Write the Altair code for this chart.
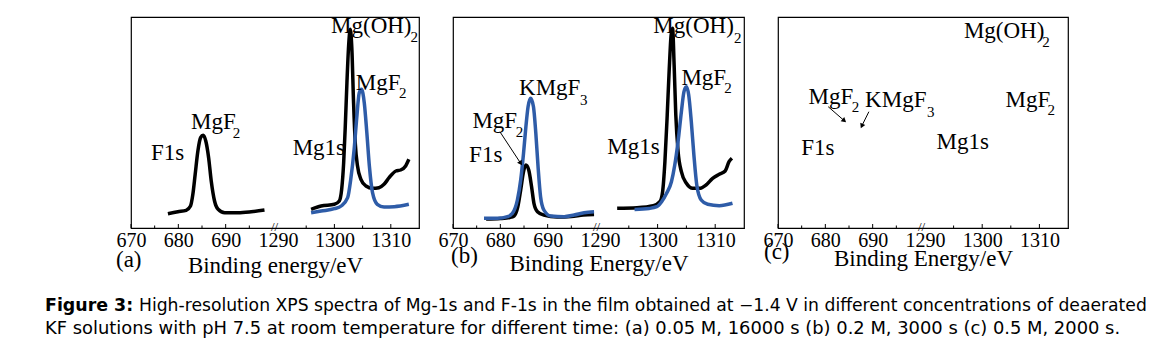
import altair as alt
import pandas as pd

SERIF = "Liberation Serif"
SANS = "DejaVu Sans"
BLACK = "#000000"
BLUE = "#2e5ca8"

# ---------------- data ----------------
# Panel (a): 0.05 M, 16000 s
a_f1s_E = [677.8, 679.9, 681.65, 682.57, 683.07, 683.56, 684.13, 684.7, 685.25, 685.8,
           686.4, 686.95, 687.65, 688.4, 689.8, 692.6, 695.4, 698.2]
a_f1s_I = [14.3, 16.3, 17.7, 22, 33.7, 53.7, 77, 90.3, 92.7, 87,
           70.3, 47, 27, 18.7, 15.3, 15.3, 16.3, 18]
a_mgk_E = [1295.87, 1297.64, 1300.0, 1300.87, 1301.29, 1301.64, 1301.93, 1302.22, 1302.52,
           1302.81, 1303.1, 1303.4, 1303.7, 1304.1, 1304.7, 1305.6, 1306.76, 1307.9, 1308.8,
           1309.7, 1310.9, 1311.75, 1312.63, 1313.2]
a_mgk_I = [18.7, 22, 23.7, 27, 38.7, 65, 102, 145, 182,
           198.7, 178.7, 125, 85, 62, 48.7, 42, 39.7, 40.3, 43.7,
           50.3, 57, 58, 62, 68.7]
a_mgb_E = [1295.87, 1297.64, 1300.0, 1301.2, 1302.35, 1302.9, 1303.5, 1303.99, 1304.4,
           1304.8, 1305.3, 1305.75, 1306.2, 1306.76, 1307.6, 1308.8, 1310.6, 1313.2]
a_mgb_I = [15.3, 17, 19.3, 22, 30.3, 48.7, 78.7, 112, 135,
           138.7, 125, 95.3, 62, 35.3, 23.7, 21, 21.3, 23.7]

# Panel (b): 0.2 M, 3000 s
b_f1sk_E = [677.0, 680.0, 682.0, 682.9, 683.7, 684.3, 684.9, 685.4, 686.0, 686.6,
            687.1, 687.85, 689.2, 692.0, 695.0, 697.5, 699.8]
b_f1sk_I = [9.0, 9.5, 10.5, 12, 21.3, 38, 56.3, 63, 58, 41.3,
            24.7, 16.3, 13, 11, 11.5, 13, 13.5]
b_f1sb_E = [676.55, 679.4, 681.5, 682.56, 683.6, 684.3, 684.9, 685.4, 685.86, 686.4,
            687.0, 687.5, 687.97, 688.5, 689.2, 690.65, 693.5, 695.6, 697.7, 699.8]
b_f1sb_I = [9.7, 9.7, 11.3, 14.7, 28, 48, 74.7, 101.3, 121.3, 129.7,
            121.3, 94.7, 61.3, 31.3, 18, 12, 11.3, 13, 15.3, 16.3]
b_mgk_E = [1292.98, 1296.4, 1299.26, 1300.4, 1300.87, 1301.27, 1301.67, 1302.0, 1302.35,
           1302.6, 1302.87, 1303.16, 1303.56, 1304.13, 1305.0, 1306.1, 1307.27, 1308.4,
           1309.55, 1310.7, 1311.73, 1312.4, 1312.9]
b_mgk_I = [19.7, 20.3, 22.3, 26.3, 36.3, 66.3, 113, 156.3, 193,
           199.7, 163, 113, 76.3, 56.3, 44.7, 39.7, 39.7, 43,
           49.7, 53.7, 57, 66.3, 69.7]
b_mgb_E = [1296.0, 1298.5, 1299.85, 1300.7, 1301.56, 1302.4, 1302.98, 1303.55, 1304.13,
           1304.58, 1305.0, 1305.4, 1305.85, 1306.3, 1306.8, 1307.57, 1308.7, 1310.7, 1313.0]
b_mgb_I = [18.5, 19.5, 21.3, 26.3, 34.7, 46.3, 63, 86.3, 116.3,
           136.3, 141.3, 133, 106.3, 73, 43, 28, 23.7, 22.3, 24.7]

# annotation labels: (text, energy, intensity, font size)
a_labels = [("Mg(OH)", 1299.4, 195.3, 23), ("2", 1313.5, 186, 15),
            ("MgF", 1303.8, 137.7, 23), ("2", 1311.45, 130.3, 15),
            ("MgF", 682.7, 98.7, 23), ("2", 691.5, 90.3, 15),
            ("F1s", 674.2, 67.7, 23), ("Mg1s", 1292.6, 73, 23)]
b_labels = [("KMgF", 683.95, 133, 23), ("3", 696.85, 123, 15),
            ("MgF", 674.1, 99.7, 23), ("2", 683.26, 91.3, 15),
            ("F1s", 673.4, 66.3, 23),
            ("Mg(OH)", 1299.26, 194.7, 23), ("2", 1313.28, 184.7, 15),
            ("MgF", 1304.13, 143, 23), ("2", 1311.56, 134.7, 15),
            ("Mg1s", 1291.27, 74, 23)]
c_labels = [("Mg(OH)", 1296.8, 189.7, 23), ("2", 1310.5, 181.3, 15),
            ("MgF", 1304.09, 120.7, 23), ("2", 1311.4, 113, 15),
            ("MgF", 676.46, 124, 23), ("2", 685.6, 116.3, 15),
            ("KMgF", 688.4, 120.7, 23), ("3", 1290.35, 111.3, 15),
            ("F1s", 674.9, 73, 23), ("Mg1s", 1292.0, 78.7, 23)]
# arrows: (E start, I start, E end, I end, head angle)
b_arrows = [(679.9, 96.3, 684.3, 64.7, 147)]
c_arrows = [(680.6, 121.3, 684.0, 107.3, 131), (689.2, 116.3, 687.7, 102.0, 205)]

major_ticks = [670, 680, 690, 1300, 1310]
minor_ticks = [675, 685, 695, 1295, 1305]
tick_labels = [670, 680, 690, 1290, 1300, 1310]

caption_bold = "Figure 3:"
caption_1 = ("High-resolution XPS spectra of Mg-1s and F-1s in the film obtained at \u22121.4 V "
             "in different concentrations of deaerated")
caption_2 = ("KF solutions with pH 7.5 at room temperature for different time: (a) 0.05 M, "
             "16000 s (b) 0.2 M, 3000 s (c) 0.5 M, 2000 s.")

H = 211
YMAX = 211


def panel(W, curves, labels, arrows, tag, tag_x, tag_y, title, title_y, extra=()):
    xs = alt.Scale(domain=[670, 700, 1290, 1315], range=[0, 142, 147, W], nice=False, zero=False)
    ys = alt.Scale(domain=[0, YMAX], nice=False, zero=False)
    axis = alt.Axis(values=tick_labels, format="d", title=title, ticks=False, grid=False,
                    labelFont=SERIF, labelFontSize=20, labelColor=BLACK, labelPadding=2,
                    labelFlush=False, labelOverlap=False,
                    domainColor=BLACK, domainWidth=1.2,
                    titleFont=SERIF, titleFontSize=23, titleFontWeight="normal",
                    titleColor=BLACK, titleY=title_y, titleBaseline="alphabetic")
    layers = []
    for vals, ln in ((major_ticks, 4), (minor_ticks, 2.5)):
        tdf = pd.DataFrame({"E": vals})
        layers.append(alt.Chart(tdf).mark_rule(color=BLACK, strokeWidth=1).encode(
            x=alt.X("E:Q", scale=xs, axis=axis),
            y=alt.value(H),
            y2=alt.value(H - ln),
        ))
    for name, color, E, I in curves:
        df = pd.DataFrame({"E": E, "I": I})
        layers.append(alt.Chart(df).mark_line(color=color, strokeWidth=3.5, interpolate="monotone").encode(
            x=alt.X("E:Q", scale=xs, axis=axis),
            y=alt.Y("I:Q", scale=ys, axis=None),
        ))
    ldf = pd.DataFrame(labels, columns=["text", "E", "I", "size"])
    layers.append(alt.Chart(ldf).mark_text(font=SERIF, align="left", baseline="alphabetic",
                                           color=BLACK).encode(
        x=alt.X("E:Q", scale=xs, axis=axis),
        y=alt.Y("I:Q", scale=ys, axis=None),
        text="text:N",
        size=alt.Size("size:Q", scale=None, legend=None),
    ))
    if arrows:
        adf = pd.DataFrame(arrows, columns=["E", "I", "E2", "I2", "ang"])
        layers.append(alt.Chart(adf).mark_rule(color=BLACK, strokeWidth=1).encode(
            x=alt.X("E:Q", scale=xs, axis=axis), y=alt.Y("I:Q", scale=ys, axis=None),
            x2="E2:Q", y2="I2:Q"))
        layers.append(alt.Chart(adf).mark_point(shape="triangle-up", filled=True, color=BLACK,
                                                size=30, opacity=1).encode(
            x=alt.X("E2:Q", scale=xs, axis=axis), y=alt.Y("I2:Q", scale=ys, axis=None),
            angle=alt.Angle("ang:Q", scale=None)))
    deco = pd.DataFrame({"t": [tag], "px": [tag_x], "py": [tag_y]})
    layers.append(alt.Chart(deco).mark_text(font=SERIF, fontSize=23, align="left",
                                            baseline="alphabetic", color=BLACK).encode(
        x=alt.X("px:Q", scale=None), y=alt.Y("py:Q", scale=None), text="t:N"))
    brk = pd.DataFrame({"t": ["//"], "px": [143.5], "py": [H - 1]})
    layers.append(alt.Chart(brk).mark_text(font=SERIF, fontSize=13, align="center",
                                           baseline="middle", color=BLACK).encode(
        x=alt.X("px:Q", scale=None), y=alt.Y("py:Q", scale=None), text="t:N"))
    layers.extend(extra)
    return alt.layer(*layers).properties(
        width=W, height=H,
        view=alt.ViewBackground(stroke=BLACK, strokeWidth=1.2, fill="white"))


cap_b = pd.DataFrame({"t": [caption_bold], "px": [-86], "py": [294]})
cap_1 = pd.DataFrame({"t": [caption_1], "px": [8], "py": [294]})
cap_2 = pd.DataFrame({"t": [caption_2], "px": [-86], "py": [317]})
caption_layers = [
    alt.Chart(cap_b).mark_text(font=SANS, fontSize=17.4, fontWeight="bold", align="left",
                               baseline="alphabetic", color=BLACK).encode(
        x=alt.X("px:Q", scale=None), y=alt.Y("py:Q", scale=None), text="t:N"),
    alt.Chart(cap_1).mark_text(font=SANS, fontSize=17.2, align="left",
                               baseline="alphabetic", color=BLACK).encode(
        x=alt.X("px:Q", scale=None), y=alt.Y("py:Q", scale=None), text="t:N"),
    alt.Chart(cap_2).mark_text(font=SANS, fontSize=17.9, align="left",
                               baseline="alphabetic", color=BLACK).encode(
        x=alt.X("px:Q", scale=None), y=alt.Y("py:Q", scale=None), text="t:N"),
]

pa = panel(288, [("a_f1s", BLACK, a_f1s_E, a_f1s_I), ("a_mgk", BLACK, a_mgk_E, a_mgk_I),
                 ("a_mgb", BLUE, a_mgb_E, a_mgb_I)],
           a_labels, [], "(a)", -15, 250, "Binding energy/eV", 44, extra=caption_layers)
pb = panel(291, [("b_f1sk", BLACK, b_f1sk_E, b_f1sk_I), ("b_f1sb", BLUE, b_f1sb_E, b_f1sb_I),
                 ("b_mgk", BLACK, b_mgk_E, b_mgk_I), ("b_mgb", BLUE, b_mgb_E, b_mgb_I)],
           b_labels, b_arrows, "(b)", -2, 246, "Binding Energy/eV", 42)
pc = panel(290, [], c_labels, c_arrows, "(c)", -14, 242, "Binding Energy/eV", 37)

chart = alt.hconcat(pa, pb, pc, spacing=34, bounds="flush").properties(
    padding={"left": 44, "top": 14, "right": 5, "bottom": 5},
    background="white",
).configure_view(stroke=None)

chart.save("out.html", embed_options={"renderer": "svg", "actions": False})
